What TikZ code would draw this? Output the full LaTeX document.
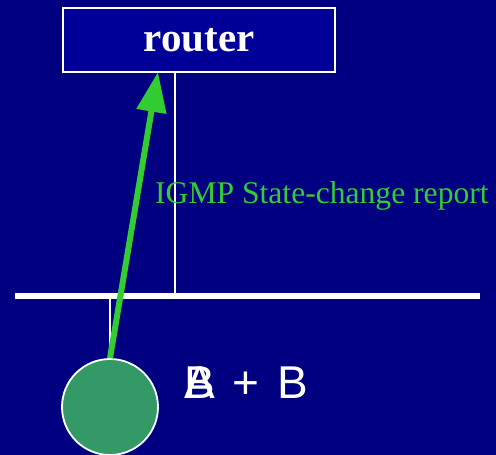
\documentclass[tikz,border=0pt]{standalone}
\usepackage{fontspec}
\setmainfont{Liberation Serif}
\newfontfamily\arialfont{Liberation Sans}
\usetikzlibrary{arrows.meta}
\definecolor{bgnavy}{HTML}{000080}
\definecolor{boxblue}{HTML}{000099}
\definecolor{arrowgreen}{HTML}{33CC33}
\definecolor{hostgreen}{HTML}{339966}
\tikzset{
  wire/.style={draw=white, line width=1.8pt},
  busline/.style={draw=white, line width=5.5pt},
  report/.style={draw=arrowgreen, line width=6pt, -{Triangle[length=40pt,width=29pt]}},
}
\begin{document}
\begin{tikzpicture}[x=1pt,y=-1pt]
\fill[bgnavy] (0,0) rectangle (496,455);
\useasboundingbox (0,0) rectangle (496,455);
\node[draw=white, line width=1.8pt, fill=boxblue, minimum width=272pt, minimum height=64pt, inner sep=0pt, text=white, font=\bfseries\fontsize{41}{48}\selectfont] (router) at (199,40) {router};
\coordinate (bl) at (15,296);
\coordinate (br) at (480,296);
\draw[busline] (bl) -- (br);
\coordinate (rtap) at (175,296);
\coordinate (rbot) at (175,72);
\draw[wire] (rbot) -- (rtap);
\node[circle, draw=white, line width=1.8pt, fill=hostgreen, minimum size=96pt, inner sep=0pt] (host) at (110,407) {};
\coordinate (htap) at (110,296);
\draw[wire] (htap) -- (host.north);
\coordinate (tip) at (158,72);
\draw[report] (host.north) -- (tip);
\node[anchor=base west, text=arrowgreen, font=\fontsize{31.6}{38}\selectfont, inner sep=0pt] (lbl) at (155,203) {IGMP State-change report};
\node[anchor=base west, text=white, font=\arialfont\fontsize{46}{52}\selectfont, inner sep=0pt] (ab) at (184,398) {\spaceskip=18pt\relax\rlap{A}B + B};
\end{tikzpicture}
\end{document}
